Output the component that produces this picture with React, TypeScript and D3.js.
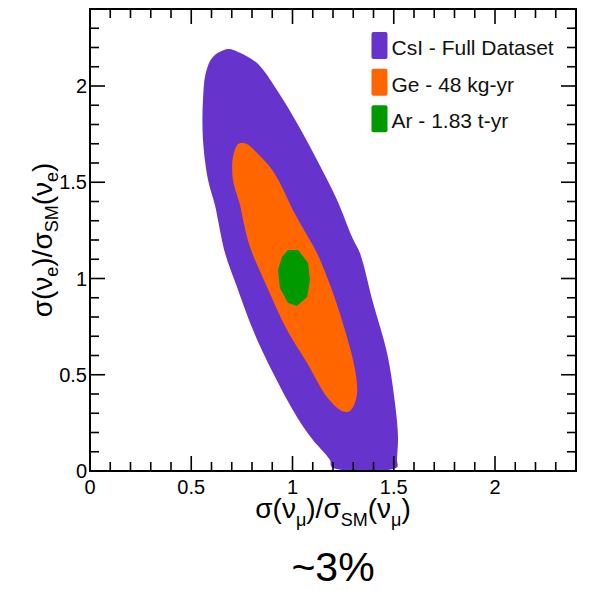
import React, { useEffect, useRef } from "react";
import * as d3 from "d3";

// contour outlines, in axis units [sigma_mu ratio, sigma_e ratio]
const csiContour: [number, number][] = [
  [0.681, 2.192], [0.731, 2.177], [0.825, 2.119], [0.923, 1.979], [1.022, 1.808],
  [1.121, 1.616], [1.22, 1.408], [1.294, 1.216], [1.333, 1.132], [1.398, 0.873],
  [1.467, 0.613], [1.506, 0.353], [1.521, 0.177], [1.516, 0.057], [1.516, 0.02],
  [1.195, 0.02], [1.185, 0.057], [1.101, 0.161], [1.022, 0.281], [0.904, 0.509],
  [0.805, 0.732], [0.726, 0.956], [0.667, 1.132], [0.632, 1.304], [0.617, 1.382],
  [0.583, 1.512], [0.558, 1.719], [0.558, 1.927], [0.573, 2.073], [0.607, 2.151],
];

const geContour: [number, number][] = [
  [0.751, 1.704], [0.775, 1.699], [0.825, 1.652], [0.889, 1.579], [0.938, 1.496],
  [1.002, 1.356], [1.077, 1.216], [1.121, 1.132], [1.2, 0.925],
  [1.269, 0.696], [1.309, 0.525], [1.319, 0.405], [1.299, 0.332], [1.274, 0.306],
  [1.235, 0.317], [1.17, 0.384], [1.072, 0.561], [0.973, 0.732], [0.874, 0.956],
  [0.79, 1.164], [0.756, 1.304], [0.741, 1.382], [0.706, 1.512], [0.706, 1.631],
  [0.731, 1.699],
];

const arContour: [number, number][] = [
  [0.978, 1.148], [1.027, 1.148], [1.077, 1.081], [1.086, 0.992], [1.072, 0.904],
  [1.022, 0.857], [0.978, 0.873], [0.938, 0.951], [0.928, 1.044], [0.948, 1.112],
];

const legendLabels = ["CsI - Full Dataset", "Ge - 48 kg-yr", "Ar - 1.83 t-yr"];
const legendColors = ["#6633cc", "#ff6600", "#009900"];

const xMajorTicks = [0, 0.5, 1, 1.5, 2];
const yMajorTicks = [0, 0.5, 1, 1.5, 2];
const minorTicks = d3.range(0, 25).map((i) => i / 10);
const axisMax = 2.4;

const font = "'Liberation Sans', Arial, Helvetica, sans-serif";

function App() {
  const svgRef = useRef<SVGSVGElement>(null);

  useEffect(() => {
    const svg = d3.select(svgRef.current);
    svg.selectAll("*").remove();
    const svgWidth = 593;
    const svgHeight = 590;
    const margin = { top: 9, right: 17, bottom: 119, left: 90 };
    const width = svgWidth - margin.left - margin.right;
    const height = svgHeight - margin.top - margin.bottom;

    const g = svg
      .append("g")
      .attr("transform", `translate(${margin.left},${margin.top})`);

    const x = d3.scaleLinear().domain([0, axisMax]).range([0, width]);
    const y = d3.scaleLinear().domain([0, axisMax]).range([height, 0]);

    const smooth = d3
      .line<[number, number]>()
      .x((d) => x(d[0]))
      .y((d) => y(d[1]))
      .curve(d3.curveCatmullRomClosed.alpha(0.5));
    const straight = d3
      .line<[number, number]>()
      .x((d) => x(d[0]))
      .y((d) => y(d[1]))
      .curve(d3.curveLinearClosed);

    g.append("path").attr("d", smooth(csiContour)).attr("fill", legendColors[0]);
    g.append("path").attr("d", smooth(geContour)).attr("fill", legendColors[1]);
    g.append("path").attr("d", straight(arContour)).attr("fill", legendColors[2]);

    // frame
    g.append("rect")
      .attr("width", width)
      .attr("height", height)
      .attr("fill", "none")
      .attr("stroke", "black")
      .attr("stroke-width", 2);

    // ticks on all four sides, pointing in (ROOT style)
    const isMajor = (v: number) => Math.abs(v * 2 - Math.round(v * 2)) < 1e-6;
    const len = (v: number) => (isMajor(v) ? 15 : 9);
    g.selectAll(".tb").data(minorTicks).enter().append("line")
      .attr("x1", (d) => x(d)).attr("x2", (d) => x(d))
      .attr("y1", height).attr("y2", (d) => height - len(d))
      .attr("stroke", "black").attr("stroke-width", 1.6);
    g.selectAll(".tt").data(minorTicks).enter().append("line")
      .attr("x1", (d) => x(d)).attr("x2", (d) => x(d))
      .attr("y1", 0).attr("y2", (d) => len(d))
      .attr("stroke", "black").attr("stroke-width", 1.6);
    g.selectAll(".tl").data(minorTicks).enter().append("line")
      .attr("x1", 0).attr("x2", (d) => len(d))
      .attr("y1", (d) => y(d)).attr("y2", (d) => y(d))
      .attr("stroke", "black").attr("stroke-width", 1.6);
    g.selectAll(".tr").data(minorTicks).enter().append("line")
      .attr("x1", width).attr("x2", (d) => width - len(d))
      .attr("y1", (d) => y(d)).attr("y2", (d) => y(d))
      .attr("stroke", "black").attr("stroke-width", 1.6);

    // tick labels
    g.selectAll(".xl").data(xMajorTicks).enter().append("text")
      .attr("x", (d) => x(d))
      .attr("y", height + 23)
      .attr("text-anchor", "middle")
      .attr("font-family", font)
      .attr("font-size", 20)
      .text((d) => String(d));
    g.selectAll(".yl").data(yMajorTicks).enter().append("text")
      .attr("x", -3)
      .attr("y", (d) => y(d) + 7)
      .attr("text-anchor", "end")
      .attr("font-family", font)
      .attr("font-size", 20)
      .text((d) => String(d));

    // legend
    const legend = g
      .append("g")
      .attr("transform", `translate(${x(1.39)},${y(2.28)})`);
    const rows = legend
      .selectAll(".row")
      .data(legendLabels)
      .enter()
      .append("g")
      .attr("class", "row")
      .attr("transform", (d, i) => `translate(0,${i * 36.6})`);
    rows
      .append("rect")
      .attr("width", 16)
      .attr("height", 27)
      .attr("rx", 2)
      .attr("fill", (d, i) => legendColors[i]);
    rows
      .append("text")
      .attr("x", 20)
      .attr("y", 23)
      .attr("font-family", font)
      .attr("font-size", 21)
      .attr("fill", "#111")
      .text((d) => d);

    // x-axis title
    const xt = svg
      .append("text")
      .attr("x", margin.left + width / 2)
      .attr("y", 518)
      .attr("text-anchor", "middle")
      .attr("font-family", font)
      .attr("font-size", 28);
    xt.append("tspan").text("σ(ν");
    xt.append("tspan").attr("font-size", 18).attr("dy", 8).text("μ");
    xt.append("tspan").attr("dy", -8).text(")/σ");
    xt.append("tspan").attr("font-size", 18).attr("dy", 8).text("SM");
    xt.append("tspan").attr("dy", -8).text("(ν");
    xt.append("tspan").attr("font-size", 18).attr("dy", 8).text("μ");
    xt.append("tspan").attr("dy", -8).text(")");

    // y-axis title
    const yt = svg
      .append("text")
      .attr("transform", `translate(52,${margin.top + height / 2}) rotate(-90)`)
      .attr("text-anchor", "middle")
      .attr("font-family", font)
      .attr("font-size", 28);
    yt.append("tspan").text("σ(ν");
    yt.append("tspan").attr("font-size", 18).attr("dy", 6).text("e");
    yt.append("tspan").attr("dy", -6).text(")/σ");
    yt.append("tspan").attr("font-size", 18).attr("dy", 6).text("SM");
    yt.append("tspan").attr("dy", -6).text("(ν");
    yt.append("tspan").attr("font-size", 18).attr("dy", 6).text("e");
    yt.append("tspan").attr("dy", -6).text(")");

    // annotation below the plot
    svg
      .append("text")
      .attr("x", margin.left + width / 2)
      .attr("y", 581)
      .attr("text-anchor", "middle")
      .attr("font-family", font)
      .attr("font-size", 41)
      .text("~3%");
  }, []);

  return (
    <div>
      <svg
        ref={svgRef}
        width={593}
        height={590}
        style={{ position: "absolute", left: 0, top: 0, background: "white" }}
      ></svg>
    </div>
  );
}

export default App;
